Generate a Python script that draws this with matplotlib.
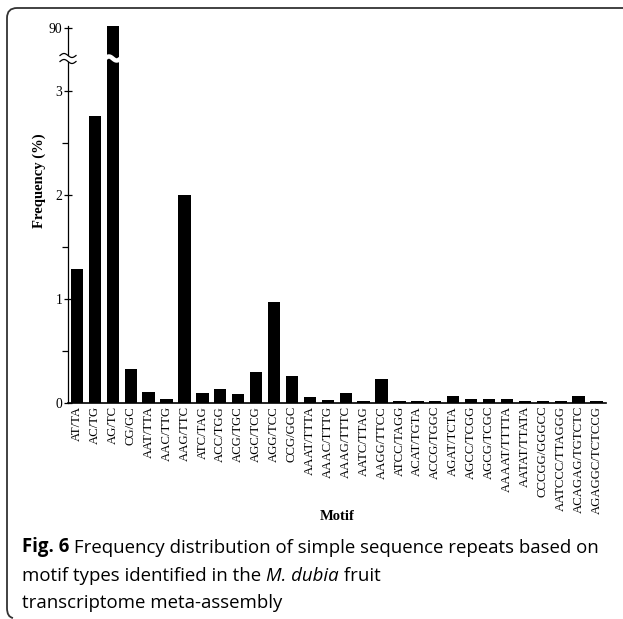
import numpy as np
import matplotlib
matplotlib.use('Agg')
import matplotlib.pyplot as plt
from matplotlib.path import Path
from matplotlib.patches import PathPatch, Polygon
from matplotlib.ticker import FixedLocator

motifs = ['AT/TA', 'AC/TG', 'AG/TC', 'CG/GC', 'AAT/TTA', 'AAC/TTG', 'AAG/TTC',
          'ATC/TAG', 'ACC/TGG', 'ACG/TGC', 'AGC/TCG', 'AGG/TCC', 'CCG/GGC',
          'AAAT/TTTA', 'AAAC/TTTG', 'AAAG/TTTC', 'AATC/TTAG', 'AAGG/TTCC',
          'ATCC/TAGG', 'ACAT/TGTA', 'ACCG/TGGC', 'AGAT/TCTA', 'AGCC/TCGG',
          'AGCG/TCGC', 'AAAAT/TTTTA', 'AATAT/TTATA', 'CCCGG/GGGCC',
          'AATCCC/TTAGGG', 'ACAGAG/TGTCTC', 'AGAGGC/TCTCCG']
freq = [1.29, 2.76, 90.7, 0.325, 0.105, 0.04, 2.0,
        0.10, 0.135, 0.087, 0.296, 0.97, 0.26,
        0.055, 0.026, 0.10, 0.02, 0.23,
        0.02, 0.02, 0.02, 0.07, 0.04,
        0.04, 0.04, 0.02, 0.02,
        0.02, 0.07, 0.02]
major_ticks = [0, 1, 2, 3, 90]
minor_ticks = [0.5, 1.5, 2.5]

# broken y axis: linear up to 3.3, squeezed gap, then a short segment around 90
xp = [-10, 3.3, 80.9, 200]
fp = [-10, 3.3, 3.31, 3.6 + 110 * 0.032]
def fwd(v):
    return np.interp(v, xp, fp)
def inv(v):
    return np.interp(v, fp, xp)

W, H = 623, 619
fig = plt.figure(figsize=(W / 100, H / 100), dpi=100)
serif = 'Liberation Serif'

ax = fig.add_axes([68 / W, 1 - 403 / H, (605.5 - 68) / W, (403 - 26) / H])
ax.set_yscale('function', functions=(fwd, inv))
x = np.arange(len(motifs))
ax.bar(x, freq, width=0.69, color='black')
ax.set_xlim(-0.5, len(motifs) - 0.5)
ax.set_ylim(0, 90.75)

ax.spines['top'].set_visible(False)
ax.spines['right'].set_visible(False)
ax.spines['left'].set_linewidth(0.9)
ax.spines['bottom'].set_linewidth(1.2)

ax.set_xticks(x)
ax.set_xticklabels(motifs, rotation=90, family=serif, fontsize=9.2)
ax.tick_params(axis='x', length=0, pad=2)
ax.yaxis.set_major_locator(FixedLocator(major_ticks))
ax.yaxis.set_minor_locator(FixedLocator(minor_ticks))
ax.set_yticklabels([str(t) for t in major_ticks], family=serif, fontsize=9.8)
ax.tick_params(axis='y', which='major', direction='inout', length=6, width=0.9, pad=1)
ax.tick_params(axis='y', which='minor', direction='out', length=4, width=0.9)

ax.set_ylabel('Frequency (%)', family=serif, fontsize=10.5, fontweight='bold')
ax.yaxis.set_label_coords(-0.041, 0.59)
ax.set_xlabel('Motif', family=serif, fontsize=10.5, fontweight='bold')
ax.xaxis.set_label_coords(0.5, -0.284)

# break marks on the axis and across the tall bar
aw = 537.5
ah = 377.0
t = np.linspace(0, 1, 60)
wx = (-8 + 16 * t) / aw
wave = 2.0 * np.sin(2 * np.pi * t) / ah
y_up = (403 - 55.5) / ah
y_lo = (403 - 61.5) / ah
gap = Polygon(np.column_stack([np.r_[wx, wx[::-1]], np.r_[y_up + wave, (y_lo + wave)[::-1]]]),
              closed=True, facecolor='white', edgecolor='none', transform=ax.transAxes,
              clip_on=False, zorder=5)
ax.add_patch(gap)
for yy in (y_up, y_lo):
    ax.plot(wx, yy + wave, color='black', lw=0.9, transform=ax.transAxes, clip_on=False, zorder=6)

bt = ax.get_xaxis_transform()
bx = 2 + np.linspace(-0.43, 0.43, 60)
bwave = 2.0 * np.sin(2 * np.pi * t) / ah
ax.plot(bx, (403 - 58.5) / ah + bwave, color='white', lw=3.2, transform=bt, clip_on=False, zorder=6)

# caption
cap = 'Open Sans'
fs = 13.4
def px(xv, yv):
    return xv / W, 1 - yv / H
t1 = fig.text(*px(22, 557), 'Fig. 6', family=cap, fontweight='bold', fontsize=fs, va='bottom')
plt.annotate(' Frequency distribution of simple sequence repeats based on', xy=(1, 0),
             xycoords=t1, va='bottom', ha='left', family=cap, fontsize=fs,
             annotation_clip=False)
l2 = fig.text(*px(22, 585), 'motif types identified in the ', family=cap, fontsize=fs, va='bottom')
l2b = plt.annotate('M. dubia', xy=(1, 0), xycoords=l2, va='bottom', ha='left', family=cap,
                   fontsize=fs, style='italic', annotation_clip=False)
plt.annotate(' fruit', xy=(1, 0), xycoords=l2b, va='bottom', ha='left', family=cap,
             fontsize=fs, annotation_clip=False)
fig.text(*px(22, 612), 'transcriptome meta-assembly', family=cap, fontsize=fs, va='bottom')

# rounded frame (top and left edges only)
verts = [(623, 8), (17, 8), (7, 8), (7, 18), (7, 608), (7, 617), (13, 618)]
codes = [Path.MOVETO, Path.LINETO, Path.CURVE3, Path.CURVE3, Path.LINETO, Path.CURVE3, Path.CURVE3]
frame = PathPatch(Path([px(*v) for v in verts], codes), facecolor='none', edgecolor='#333333',
                  lw=1.3, transform=fig.transFigure)
fig.add_artist(frame)

fig.savefig('out.png', dpi=100)
